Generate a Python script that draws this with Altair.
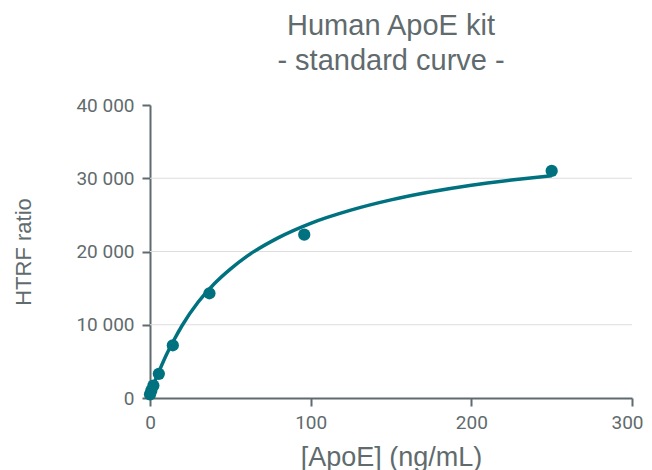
import altair as alt
import pandas as pd

# measured standards
conc = [0, 0.8, 2.1, 5.5, 14.2, 37, 96, 250]
htrf = [500, 1000, 1700, 3300, 7200, 14300, 22300, 31000]

# fitted curve
curve_x = [0, 1, 2, 5, 10, 15, 20, 30, 40, 50, 60, 80, 100, 125, 150, 175, 200, 225, 250]
curve_y = [400, 1000, 1700, 3300, 5800, 7950, 9900, 13100, 15600, 17600, 19300, 21900, 23850, 25650, 27050, 28150, 29050, 29750, 30350]

grid_vals = [10000, 20000, 30000]

teal = "#00717f"
gray = "#5f6b6d"

pts = pd.DataFrame({"x": conc, "y": htrf})
crv = pd.DataFrame({"x": curve_x, "y": curve_y})
grd = pd.DataFrame({"g": grid_vals})

xscale = alt.Scale(domain=[0, 300], nice=False)
yscale = alt.Scale(domain=[0, 40000], nice=False)

xaxis = alt.Axis(values=[0, 100, 200, 300], title="[ApoE] (ng/mL)", grid=False,
                 labelFlush=False, labelOverlap=False,
                 labelOffset={"condition": {"test": "datum.value == 300", "value": -5}, "value": 0},
                 domainColor=gray, domainWidth=2, tickColor=gray, tickWidth=2, tickSize=8,
                 labelColor=gray, labelFont="Roboto", labelFontSize=19, labelPadding=7,
                 titleColor=gray, titleFont="Liberation Sans", titleFontSize=27,
                 titleFontWeight="normal", titlePadding=12)
yaxis = alt.Axis(values=[0, 10000, 20000, 30000, 40000], title="HTRF ratio", grid=False,
                 labelFlush=False, labelOverlap=False,
                 labelExpr="datum.value == 0 ? '0' : format(datum.value/1000, 'd') + ' 000'",
                 domainColor=gray, domainWidth=2, tickColor=gray, tickWidth=2, tickSize=8,
                 labelColor=gray, labelFont="Roboto", labelFontSize=19, labelPadding=8,
                 titleColor=gray, titleFont="Liberation Sans", titleFontSize=22,
                 titleFontWeight="normal", titlePadding=40)

grid = alt.Chart(grd).mark_rule(color="#dddddd", strokeWidth=1).encode(
    y=alt.Y("g:Q", scale=yscale, axis=yaxis)
)

line = alt.Chart(crv).mark_line(color=teal, strokeWidth=3.5, interpolate="monotone").encode(
    x=alt.X("x:Q", scale=xscale, axis=xaxis),
    y=alt.Y("y:Q", scale=yscale, axis=yaxis),
)

points = alt.Chart(pts).mark_circle(color=teal, size=150, opacity=1).encode(
    x=alt.X("x:Q", scale=xscale, axis=xaxis),
    y=alt.Y("y:Q", scale=yscale, axis=yaxis),
)

chart = alt.layer(grid, line, points).properties(
    width=482,
    height=293,
    title=alt.TitleParams(
        text=["Human ApoE kit", "- standard curve -"],
        font="Liberation Sans", fontSize=29, fontWeight="normal", color=gray,
        lineHeight=35, anchor="middle", offset=20,
    ),
    autosize=alt.AutoSizeParams(type="none"),
    padding={"left": 142, "top": 97, "right": 12, "bottom": 72},
).configure_view(stroke=None)

chart.save("out.html", embed_options={"renderer": "svg", "actions": False})
